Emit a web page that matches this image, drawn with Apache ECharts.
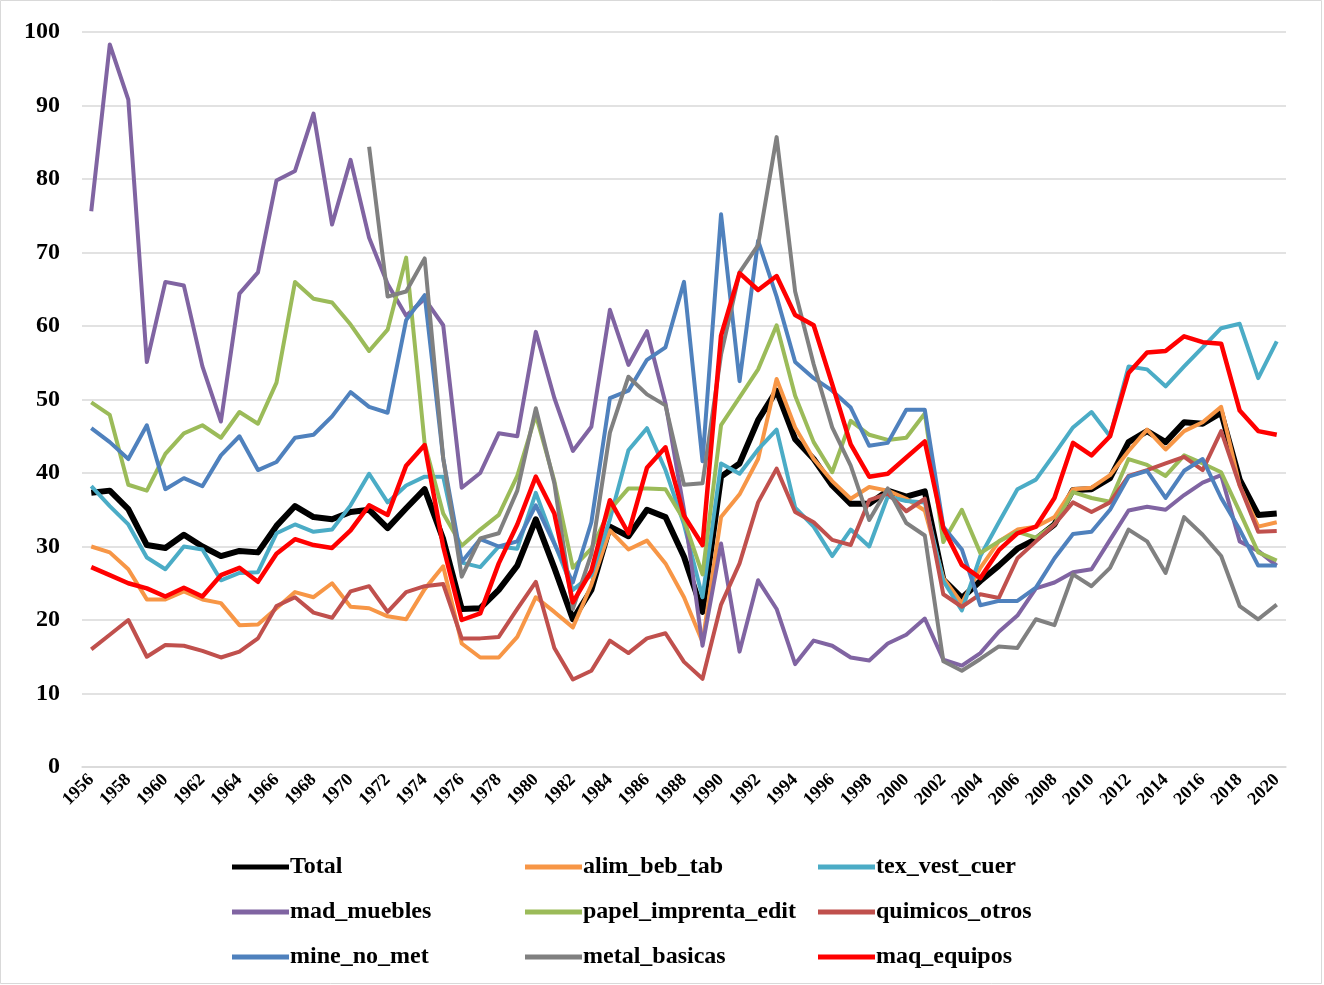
<!DOCTYPE html>
<html>
<head>
<meta charset="utf-8">
<script src="https://cdn.jsdelivr.net/npm/echarts@6/dist/echarts.min.js"></script>
<style>
  html, body { margin: 0; padding: 0; background: #fff; }
  #chart { width: 1324px; height: 985px; }
</style>
</head>
<body>
<div id="chart"></div>
<script>
// Years on the x axis
const years = [
    '1956', '1957', '1958', '1959', '1960', '1961', '1962', '1963', '1964', '1965',
    '1966', '1967', '1968', '1969', '1970', '1971', '1972', '1973', '1974', '1975',
    '1976', '1977', '1978', '1979', '1980', '1981', '1982', '1983', '1984', '1985',
    '1986', '1987', '1988', '1989', '1990', '1991', '1992', '1993', '1994', '1995',
    '1996', '1997', '1998', '1999', '2000', '2001', '2002', '2003', '2004', '2005',
    '2006', '2007', '2008', '2009', '2010', '2011', '2012', '2013', '2014', '2015',
    '2016', '2017', '2018', '2019', '2020'
];

// Series values (1956 .. 2020)
const total = [
    37.3, 37.6, 35.1, 30.2, 29.8, 31.6, 30.0, 28.7, 29.4, 29.2,
    32.8, 35.5, 34.0, 33.7, 34.7, 35.0, 32.5, 35.2, 37.8, 31.0,
    21.5, 21.6, 24.1, 27.4, 33.7, 27.1, 20.1, 24.1, 32.7, 31.4,
    35.0, 34.0, 28.6, 21.1, 39.5, 41.3, 47.2, 51.2, 44.6, 41.9,
    38.3, 35.8, 35.8, 37.6, 36.8, 37.5, 25.5, 23.0, 25.3, 27.4,
    29.7, 31.0, 33.0, 37.7, 37.8, 39.3, 44.2, 45.7, 44.2, 46.9,
    46.7, 48.2, 39.1, 34.3, 34.5
];
const alim_beb_tab = [
    30.0, 29.2, 26.9, 22.8, 22.8, 23.9, 22.8, 22.3, 19.3, 19.4,
    21.6, 23.8, 23.1, 25.0, 21.8, 21.6, 20.5, 20.1, 24.2, 27.3,
    16.8, 14.9, 14.9, 17.7, 23.1, 21.1, 19.0, 24.8, 32.2, 29.6,
    30.8, 27.7, 23.1, 17.0, 34.0, 37.1, 41.9, 52.8, 46.2, 41.9,
    38.9, 36.5, 38.1, 37.6, 36.5, 34.9, 25.7, 22.3, 27.1, 30.7,
    32.3, 32.7, 34.0, 37.8, 38.0, 39.7, 43.0, 45.9, 43.2, 45.7,
    46.9, 49.0, 38.3, 32.7, 33.3
];
const tex_vest_cuer = [
    38.2, 35.5, 33.0, 28.5, 26.9, 30.0, 29.6, 25.4, 26.4, 26.5,
    31.8, 33.0, 32.0, 32.3, 35.6, 39.9, 36.0, 38.3, 39.5, 39.5,
    27.8, 27.2, 30.0, 29.7, 37.3, 30.5, 24.1, 26.1, 33.7, 43.1,
    46.1, 40.4, 33.0, 23.1, 41.3, 39.9, 43.2, 45.9, 35.3, 32.7,
    28.7, 32.3, 30.0, 36.8, 36.2, 36.0, 25.3, 21.3, 28.7, 33.3,
    37.8, 39.1, 42.6, 46.2, 48.3, 45.0, 54.5, 54.1, 51.8, 54.5,
    57.1, 59.7, 60.3, 52.9, 57.9
];
const mad_muebles = [
    75.6, 98.3, 90.8, 55.1, 66.0, 65.5, 54.5, 47.0, 64.4, 67.3,
    79.8, 81.1, 88.9, 73.8, 82.6, 72.0, 65.7, 61.4, 63.7, 60.1,
    38.0, 40.0, 45.4, 45.0, 59.2, 50.2, 43.0, 46.3, 62.2, 54.7,
    59.3, 49.5, 35.0, 16.5, 30.4, 15.7, 25.4, 21.5, 14.0, 17.2,
    16.5, 14.9, 14.5, 16.8, 18.0, 20.2, 14.6, 13.8, 15.5, 18.4,
    20.6, 24.3, 25.1, 26.5, 26.9, 30.9, 34.9, 35.4, 35.0, 37.0,
    38.7, 39.7, 30.7, 29.4, 27.4
];
const papel_imprenta_edit = [
    49.6, 47.9, 38.4, 37.6, 42.6, 45.4, 46.5, 44.8, 48.3, 46.7,
    52.3, 66.0, 63.7, 63.2, 60.2, 56.6, 59.5, 69.3, 44.0, 34.5,
    30.1, 32.3, 34.3, 39.6, 47.9, 38.9, 27.1, 29.7, 35.0, 37.9,
    37.9, 37.8, 33.6, 26.2, 46.5, 50.3, 54.1, 60.1, 50.5, 44.2,
    40.1, 47.1, 45.2, 44.5, 44.8, 48.1, 30.6, 35.0, 29.1, 30.7,
    32.0, 31.2, 33.0, 37.4, 36.6, 36.1, 41.9, 41.1, 39.6, 42.4,
    41.3, 40.1, 34.7, 29.2, 28.1
];
const quimicos_otros = [
    16.0, 18.0, 20.0, 15.0, 16.6, 16.5, 15.8, 14.9, 15.7, 17.5,
    21.9, 23.1, 21.0, 20.3, 23.9, 24.6, 21.1, 23.8, 24.6, 24.9,
    17.5, 17.5, 17.7, 21.5, 25.2, 16.2, 11.9, 13.1, 17.2, 15.5,
    17.5, 18.2, 14.3, 12.0, 22.1, 27.7, 36.0, 40.6, 34.7, 33.3,
    30.9, 30.2, 36.3, 37.2, 34.8, 36.5, 23.5, 21.8, 23.5, 23.0,
    28.4, 30.7, 33.0, 36.0, 34.7, 36.0, 39.6, 40.4, 41.3, 42.2,
    40.4, 45.7, 38.3, 32.0, 32.1
];
const mine_no_met = [
    46.1, 44.2, 41.9, 46.5, 37.8, 39.3, 38.2, 42.4, 45.0, 40.4,
    41.5, 44.8, 45.2, 47.7, 51.0, 49.0, 48.2, 60.8, 64.2, 42.0,
    27.9, 31.0, 30.0, 30.7, 35.6, 30.4, 25.1, 33.3, 50.2, 51.2,
    55.4, 57.1, 66.0, 41.6, 75.2, 52.5, 71.6, 64.0, 55.1, 52.9,
    51.2, 48.9, 43.7, 44.1, 48.6, 48.6, 32.7, 29.6, 22.0, 22.6,
    22.6, 24.4, 28.4, 31.7, 32.0, 35.0, 39.5, 40.3, 36.6, 40.3,
    41.9, 36.6, 32.3, 27.4, 27.4
];
const metal_basicas = [
    null, null, null, null, null, null, null, null, null, null,
    null, null, null, null, null, 84.4, 64.0, 64.7, 69.2, 42.0,
    25.9, 31.1, 31.8, 37.6, 48.8, 38.6, 21.5, 29.0, 45.5, 53.1,
    50.7, 49.2, 38.4, 38.6, 56.1, 67.3, 71.0, 85.7, 64.7, 54.8,
    46.2, 41.0, 33.6, 37.9, 33.2, 31.5, 14.4, 13.1, 14.7, 16.4,
    16.2, 20.1, 19.3, 26.2, 24.6, 27.1, 32.3, 30.7, 26.4, 34.0,
    31.6, 28.7, 21.9, 20.1, 22.1
];
const maq_equipos = [
    27.2, 26.1, 25.0, 24.3, 23.2, 24.4, 23.2, 26.1, 27.1, 25.2,
    29.0, 31.0, 30.2, 29.8, 32.2, 35.6, 34.3, 41.0, 43.8, 30.0,
    20.0, 20.9, 27.7, 33.0, 39.5, 34.5, 22.4, 26.7, 36.3, 31.8,
    40.7, 43.5, 34.2, 30.2, 58.7, 67.2, 64.9, 66.8, 61.5, 60.1,
    52.1, 43.9, 39.5, 39.9, 42.1, 44.3, 32.5, 27.5, 25.7, 29.5,
    31.8, 32.7, 36.6, 44.1, 42.4, 45.0, 53.6, 56.4, 56.6, 58.6,
    57.8, 57.6, 48.5, 45.7, 45.2
];

const fontFamily = "'Liberation Serif', 'Times New Roman', serif";

// name, data, color, width
const seriesDefs = [
    ['Total', total, '#000000', 6],
    ['alim_beb_tab', alim_beb_tab, '#F79646', 4],
    ['tex_vest_cuer', tex_vest_cuer, '#4BACC6', 4],
    ['mad_muebles', mad_muebles, '#8064A2', 4],
    ['papel_imprenta_edit', papel_imprenta_edit, '#9BBB59', 4],
    ['quimicos_otros', quimicos_otros, '#C0504D', 4],
    ['mine_no_met', mine_no_met, '#4F81BD', 4],
    ['metal_basicas', metal_basicas, '#808080', 4],
    ['maq_equipos', maq_equipos, '#FF0000', 4.5]
];

const chart = echarts.init(document.getElementById('chart'));

function legendColumn(left, names) {
    return {
        orient: 'vertical',
        left: left,
        top: 855,
        data: names,
        icon: 'rect',
        itemWidth: 57,
        itemHeight: 5,
        itemGap: 21,
        padding: 0,
        textStyle: {
            fontFamily: fontFamily,
            fontWeight: 'bold',
            fontSize: 24,
            color: '#000',
            padding: [0, 0, 0, -4],
            lineHeight: 24
        }
    };
}

const option = {
    animation: false,
    backgroundColor: '#fff',
    grid: { left: 82, right: 38, top: 32, bottom: 218 },
    graphic: [{
        type: 'rect',
        shape: { x: 0.5, y: 0.5, width: 1321, height: 983 },
        style: { fill: 'none', stroke: '#d9d9d9', lineWidth: 1 },
        silent: true
    }],
    legend: [
        legendColumn(232, ['Total', 'mad_muebles', 'mine_no_met']),
        legendColumn(525, ['alim_beb_tab', 'papel_imprenta_edit', 'metal_basicas']),
        legendColumn(818, ['tex_vest_cuer', 'quimicos_otros', 'maq_equipos'])
    ],
    xAxis: {
        type: 'category',
        data: years,
        boundaryGap: true,
        axisLine: { lineStyle: { color: '#d9d9d9', width: 1.5 } },
        axisTick: { show: false },
        axisLabel: {
            interval: 1,
            rotate: 45,
            margin: 10,
            fontFamily: fontFamily,
            fontWeight: 'bold',
            fontSize: 18,
            color: '#000'
        }
    },
    yAxis: {
        type: 'value',
        min: 0,
        max: 100,
        interval: 10,
        axisLine: { show: false },
        axisTick: { show: false },
        splitLine: { lineStyle: { color: '#d9d9d9', width: 1.5 } },
        axisLabel: {
            margin: 22,
            fontFamily: fontFamily,
            fontWeight: 'bold',
            fontSize: 24,
            color: '#000'
        }
    },
    series: seriesDefs.map(([name, data, color, width]) => ({
        name: name,
        type: 'line',
        data: data,
        showSymbol: false,
        symbol: 'none',
        connectNulls: false,
        color: color,
        itemStyle: { color: color },
        lineStyle: { color: color, width: width, join: 'round' }
    }))
};

chart.setOption(option);
</script>
</body>
</html>
